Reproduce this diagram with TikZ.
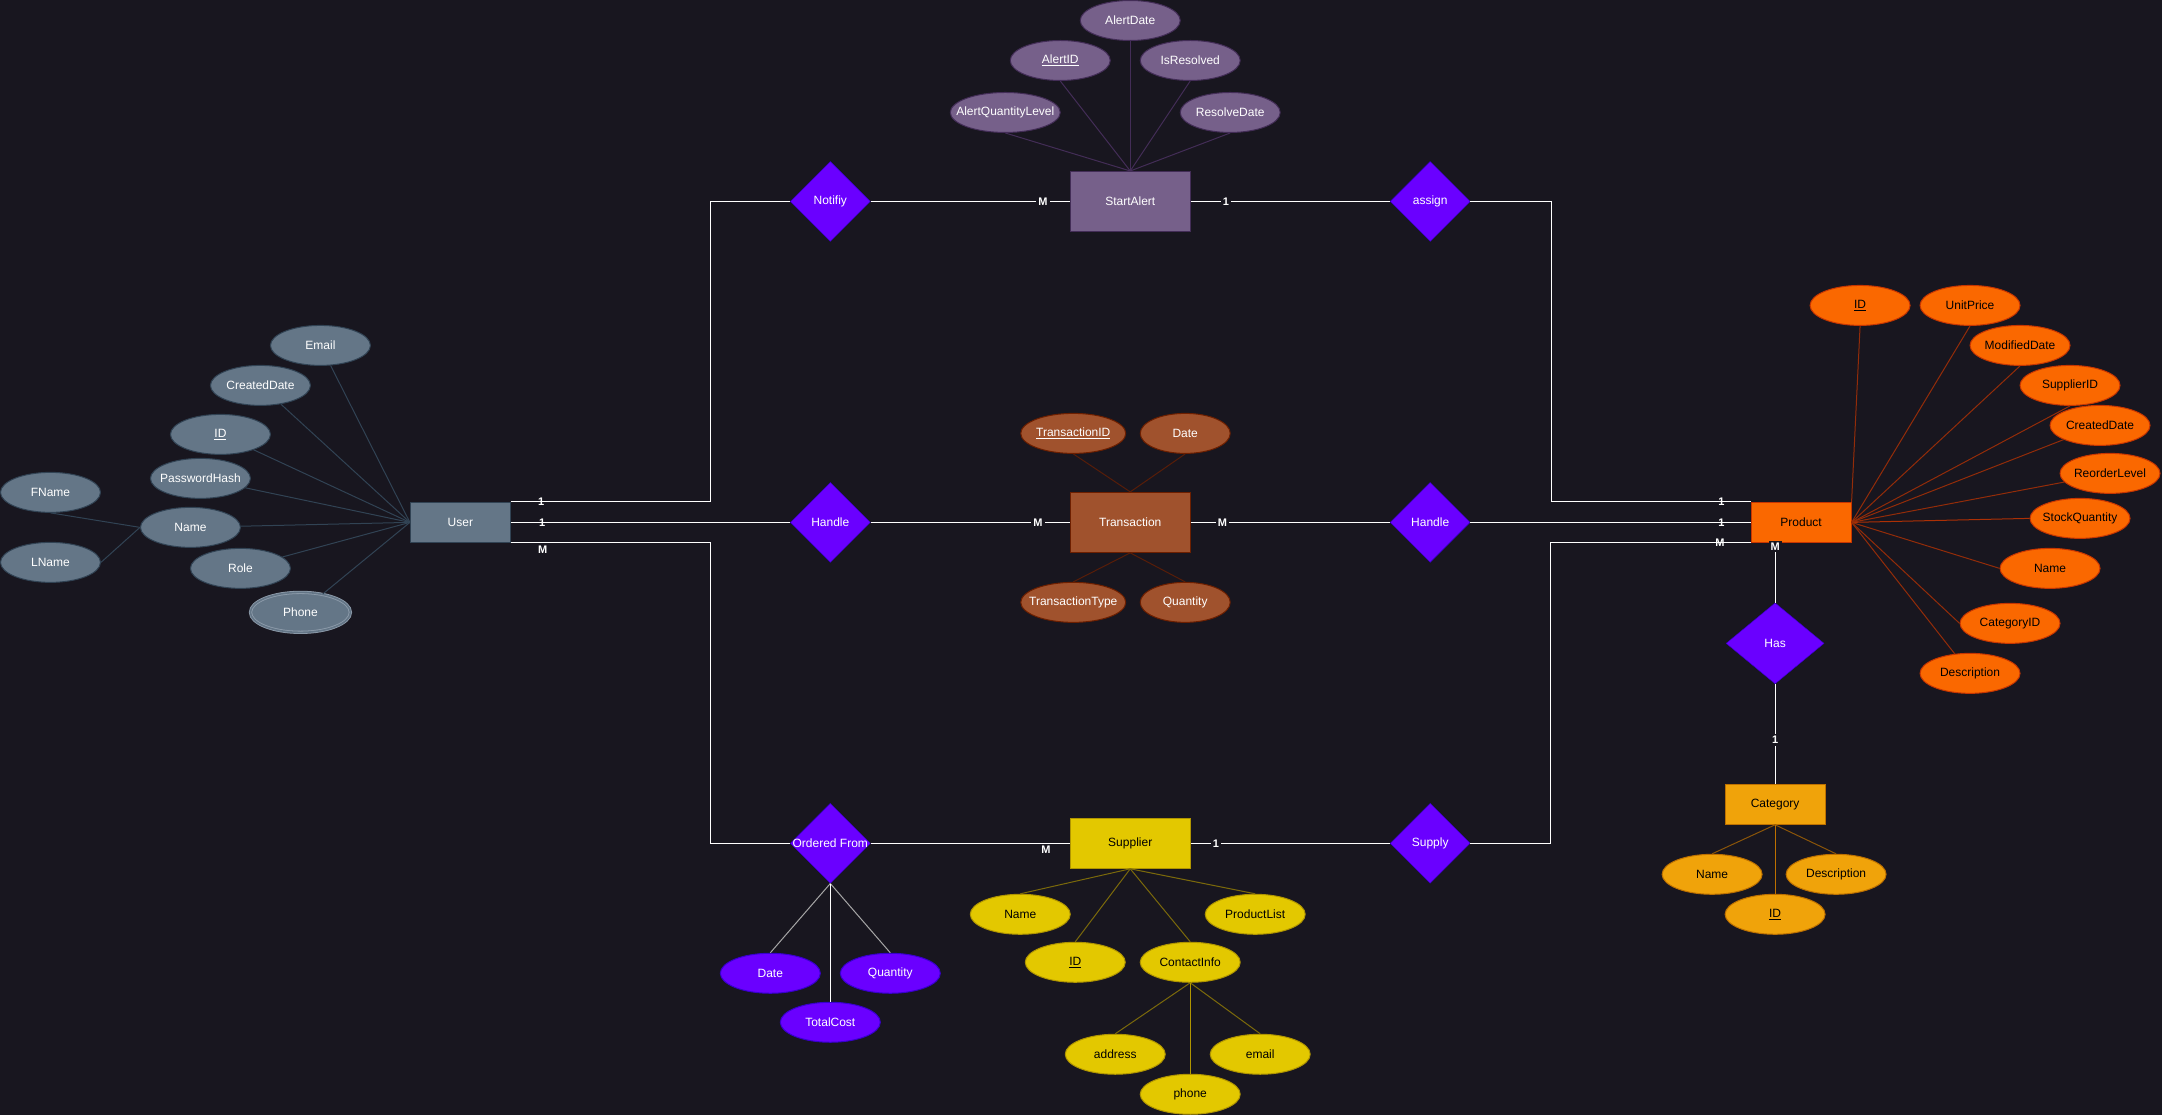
\documentclass[tikz,border=0pt]{standalone}
\usepackage{fontspec}
\setmainfont{Liberation Sans}
\usetikzlibrary{positioning,shapes.geometric}

\definecolor{canvas}{HTML}{18161F}
\definecolor{slatefill}{HTML}{647687}
\definecolor{slateline}{HTML}{314354}
\definecolor{plumfill}{HTML}{76608A}
\definecolor{plumline}{HTML}{432D57}
\definecolor{siennafill}{HTML}{A0522D}
\definecolor{siennaline}{HTML}{6D1F00}
\definecolor{goldfill}{HTML}{E3C800}
\definecolor{goldline}{HTML}{B09500}
\definecolor{orangefill}{HTML}{FA6800}
\definecolor{orangeline}{HTML}{C73500}
\definecolor{amberfill}{HTML}{F0A30A}
\definecolor{amberline}{HTML}{BD7000}
\definecolor{violetfill}{HTML}{6A00FF}
\definecolor{violetline}{HTML}{3700CC}
\definecolor{phonering}{HTML}{A6B4C2}

\begin{document}
\begin{tikzpicture}[x=1pt,y=-1pt,on grid,font=\fontsize{12}{14}\selectfont,
	narrowtext/.style={execute at begin node={\hbox to 0pt\bgroup\hss},execute at end node={\hss\egroup}},
	entity/.style={rectangle,line width=1pt,inner sep=0pt,minimum width=100pt,minimum height=40pt},
	relation/.style={diamond,aspect=1,fill=violetfill,draw=violetline,text=white,inner sep=0pt,minimum width=80pt,minimum height=80pt,narrowtext},
	attr/.style={ellipse,line width=1pt,inner sep=0pt,minimum width=100pt,minimum height=40pt,narrowtext},
	userattr/.style={attr,fill=slatefill,draw=slateline,text=white},
	alertattr/.style={attr,fill=plumfill,draw=plumline,text=white},
	transattr/.style={attr,fill=siennafill,draw=siennaline,text=white},
	suppattr/.style={attr,fill=goldfill,draw=goldline,text=black},
	prodattr/.style={attr,fill=orangefill,draw=orangeline,text=black},
	catattr/.style={attr,fill=amberfill,draw=amberline,text=black},
	orderattr/.style={attr,fill=violetfill,draw=violetline,text=white},
	link/.style={draw=white,line width=1.2pt},
	spoke/.style={line width=1pt},
	card/.style={font=\fontsize{11}{12}\selectfont\bfseries,text=white,fill=canvas,inner sep=2pt},
	cardon/.style={font=\fontsize{11}{12}\selectfont\bfseries,text=white,inner sep=0pt}]

	\fill[canvas] (0,0) rectangle (2162,1115);

	% entities and relationships
	\node[entity,fill=slatefill,draw=slateline,text=white] at (460,522)		(user)		{User};
	\node[relation,right=370pt of user]									(handleu)	{Handle};
	\node[relation,above=321pt of handleu]								(notify)	{Notifiy};
	\node[relation,below=321pt of handleu]								(ordered)	{Ordered From};
	\node[entity,fill=siennafill,draw=siennaline,text=white,minimum width=120pt,minimum height=60pt,right=300pt of handleu]	(trans)	{Transaction};
	\node[entity,fill=plumfill,draw=plumline,text=white,minimum width=120pt,minimum height=60pt,right=300pt of notify]		(alert)	{StartAlert};
	\node[entity,fill=goldfill,draw=goldline,text=black,minimum width=120pt,minimum height=50pt,right=300pt of ordered]		(supplier)	{Supplier};
	\node[relation,right=300pt of trans]									(handlep)	{Handle};
	\node[relation,right=300pt of alert]									(assign)	{assign};
	\node[relation,right=300pt of supplier]								(supply)	{Supply};
	\node[entity,fill=orangefill,draw=orangeline,text=black,right=371pt of handlep]	(product)	{Product};
	\node[relation,minimum width=98pt,minimum height=81pt,below left=121pt and 26pt of product]	(has)	{Has};
	\node[entity,fill=amberfill,draw=amberline,text=black,below=161pt of has]	(category)	{Category};

	\coordinate (bl)  at (710,201);
	\coordinate (bl2) at (710,843);
	\coordinate (br)  at (1551,201);
	\coordinate (br2) at (1550,843);

	% user attributes
	\node[userattr,above left=177pt and 140pt of user]	(uemail)	{Email};
	\node[userattr,above left=137pt and 200pt of user]	(ucreated)	{CreatedDate};
	\node[userattr,above left=88pt and 240pt of user]	(uid)		{\underline{ID}};
	\node[userattr,above left=44pt and 260pt of user]	(upass)		{PasswordHash};
	\node[userattr,below left=5pt and 270pt of user]	(uname)		{Name};
	\node[userattr,above left=35pt and 140pt of uname]	(ufname)	{FName};
	\node[userattr,below left=35pt and 140pt of uname]	(ulname)	{LName};
	\node[userattr,below left=46pt and 220pt of user]	(urole)		{Role};
	\node[userattr,draw=phonering!80!slateline,line width=.8pt,double=slatefill,double distance=1.6pt,below left=90pt and 160pt of user]	(uphone)	{Phone};

	% alert attributes
	\node[alertattr,above=181pt of alert]					(adate)		{AlertDate};
	\node[alertattr,above left=141pt and 70pt of alert]		(aid)		{\underline{AlertID}};
	\node[alertattr,above right=141pt and 60pt of alert]	(ares)		{IsResolved};
	\node[alertattr,minimum width=110pt,above left=89pt and 125pt of alert]	(aqty)	{AlertQuantityLevel};
	\node[alertattr,above right=89pt and 100pt of alert]	(arsd)		{ResolveDate};

	% transaction attributes
	\node[transattr,minimum width=105pt,above left=89pt and 57pt of trans]	(tid)	{\underline{TransactionID}};
	\node[transattr,minimum width=90pt,above right=89pt and 55pt of trans]	(tdate)	{Date};
	\node[transattr,minimum width=105pt,below left=80pt and 57pt of trans]	(ttype)	{TransactionType};
	\node[transattr,minimum width=90pt,below right=80pt and 55pt of trans]	(tqty)	{Quantity};

	% supplier attributes
	\node[suppattr,below left=71pt and 110pt of supplier]	(sname)		{Name};
	\node[suppattr,below right=71pt and 125pt of supplier]	(slist)		{ProductList};
	\node[suppattr,below left=119pt and 55pt of supplier]	(sid)		{\underline{ID}};
	\node[suppattr,below right=119pt and 60pt of supplier]	(scontact)	{ContactInfo};
	\node[suppattr,below left=92pt and 75pt of scontact]	(saddress)	{address};
	\node[suppattr,below right=92pt and 70pt of scontact]	(semail)	{email};
	\node[suppattr,below=132pt of scontact]					(sphone)	{phone};

	% ordered from attributes
	\node[orderattr,below left=130pt and 60pt of ordered]	(odate)		{Date};
	\node[orderattr,below right=130pt and 60pt of ordered]	(oqty)		{Quantity};
	\node[orderattr,below=179pt of ordered]					(ototal)	{TotalCost};

	% product attributes
	\node[prodattr,above right=217pt and 59pt of product]	(pid)		{\underline{ID}};
	\node[prodattr,above right=217pt and 169pt of product]	(pprice)	{UnitPrice};
	\node[prodattr,above right=177pt and 219pt of product]	(pmod)		{ModifiedDate};
	\node[prodattr,above right=137pt and 269pt of product]	(psupp)		{SupplierID};
	\node[prodattr,above right=97pt and 299pt of product]	(pcreated)	{CreatedDate};
	\node[prodattr,above right=49pt and 309pt of product]	(preorder)	{ReorderLevel};
	\node[prodattr,above right=4pt and 279pt of product]	(pstock)	{StockQuantity};
	\node[prodattr,below right=46pt and 249pt of product]	(pname)		{Name};
	\node[prodattr,below right=101pt and 209pt of product]	(pcat)		{CategoryID};
	\node[prodattr,below right=151pt and 169pt of product]	(pdesc)		{Description};

	% category attributes
	\node[catattr,below left=70pt and 63pt of category]		(cname)		{Name};
	\node[catattr,below right=70pt and 61pt of category]	(cdesc)		{Description};
	\node[catattr,below=110pt of category]					(cid)		{\underline{ID}};

	% attribute spokes
	\draw[spoke,slateline] (uemail) -- (user.west);
	\draw[spoke,slateline] (ucreated) -- (user.west);
	\draw[spoke,slateline] (uid) -- (user.west);
	\draw[spoke,slateline] (upass) -- (user.west);
	\draw[spoke,slateline] (uname) -- (user.west);
	\draw[spoke,slateline] (urole) -- (user.west);
	\draw[spoke,slateline] (uphone) -- (user.west);
	\draw[spoke,slateline] (ufname.south) -- (uname.west);
	\draw[spoke,slateline] (ulname.east) -- (uname.west);

	\draw[spoke,plumline] (adate.south) -- (alert.north);
	\draw[spoke,plumline] (aid.south) -- (alert.north);
	\draw[spoke,plumline] (ares.south) -- (alert.north);
	\draw[spoke,plumline] (aqty.south) -- (alert.north);
	\draw[spoke,plumline] (arsd.south) -- (alert.north);

	\draw[spoke,siennaline!75!canvas] (tid.south) -- (trans.north);
	\draw[spoke,siennaline!75!canvas] (tdate.south) -- (trans.north);
	\draw[spoke,siennaline!75!canvas] (trans.south) -- (ttype.north);
	\draw[spoke,siennaline!75!canvas] (trans.south) -- (tqty.north);

	\draw[spoke,goldline!65!canvas] (supplier.south) -- (sname.north);
	\draw[spoke,goldline!65!canvas] (supplier.south) -- (slist.north);
	\draw[spoke,goldline!65!canvas] (supplier.south) -- (sid.north);
	\draw[spoke,goldline!65!canvas] (supplier.south) -- (scontact.north);
	\draw[spoke,goldline!65!canvas] (scontact.south) -- (saddress.north);
	\draw[spoke,goldline!65!canvas] (scontact.south) -- (semail.north);
	\draw[spoke,goldline] (scontact.south) -- (sphone.north);

	\draw[spoke,gray!70] (ordered.south) -- (odate.north);
	\draw[spoke,gray!70] (ordered.south) -- (oqty.north);
	\draw[spoke,white] (ordered.south) -- (ototal.north);

	\draw[spoke,orangeline!70!canvas] (pid.south) -- (product.north east);
	\draw[spoke,orangeline!70!canvas] (pprice.south) -- (product.east);
	\draw[spoke,orangeline!70!canvas] (pmod.south) -- (product.east);
	\draw[spoke,orangeline!70!canvas] (psupp.south) -- (product.east);
	\draw[spoke,orangeline!70!canvas] (pcreated) -- (product.east);
	\draw[spoke,orangeline!70!canvas] (preorder) -- (product.east);
	\draw[spoke,orangeline!85!canvas] (pstock.west) -- (product.east);
	\draw[spoke,orangeline!70!canvas] (pname.west) -- (product.east);
	\draw[spoke,orangeline!70!canvas] (pcat.west) -- (product.east);
	\draw[spoke,orangeline!70!canvas] (pdesc) -- (product.east);

	\draw[spoke,amberline!70!canvas] (category.south) -- (cname.north);
	\draw[spoke,amberline!70!canvas] (category.south) -- (cdesc.north);
	\draw[spoke,amberline] (category.south) -- (cid.north);

	% relationship links
	\draw[link] (user.north east) -| (bl) -- (notify.west);
	\draw[link] (user.east) -- (handleu.west);
	\draw[link] (user.south east) -| (bl2) -- (ordered.west);
	\draw[link] (notify.east) -- (alert.west);
	\draw[link] (alert.east) -- (assign.west);
	\draw[link] (assign.east) -- (br) |- (product.north west);
	\draw[link] (handleu.east) -- (trans.west);
	\draw[link] (trans.east) -- (handlep.west);
	\draw[link] (handlep.east) -- (product.west);
	\draw[link] (ordered.east) -- (supplier.west);
	\draw[link] (supplier.east) -- (supply.west);
	\draw[link] (supply.east) -- (br2) |- (product.south west);
	\draw[link] (has.north) -- (has.north |- product.south);
	\draw[link] (has.south) -- (category.north);

	% cardinalities
	\node[cardon,right=27pt of user.north east]		(ucard1)	{1};
	\node[cardon,right=28pt of user.east]			(ucard2)	{1};
	\node[cardon,below right=3pt and 27pt of user.south east]	(ucard3)	{M};
	\node[card,left=20pt of alert.west]				(acard1)	{M};
	\node[card,right=30pt of alert.east]			(acard2)	{1};
	\node[card,left=25pt of trans.west]				(tcard1)	{M};
	\node[card,right=25pt of trans.east]			(tcard2)	{M};
	\node[cardon,below left=2pt and 19pt of supplier.west]	(scard1)	{M};
	\node[card,right=20pt of supplier.east]			(scard2)	{1};
	\node[cardon,left=26pt of product.north west]	(pcard1)	{1};
	\node[cardon,left=26pt of product.west]			(pcard2)	{1};
	\node[cardon,left=26pt of product.south west]	(pcard3)	{M};
	\node[card,above=50pt of has.north]				(hcard1)	{M};
	\node[card,below=50pt of has.south]				(hcard2)	{1};
\end{tikzpicture}
\end{document}
